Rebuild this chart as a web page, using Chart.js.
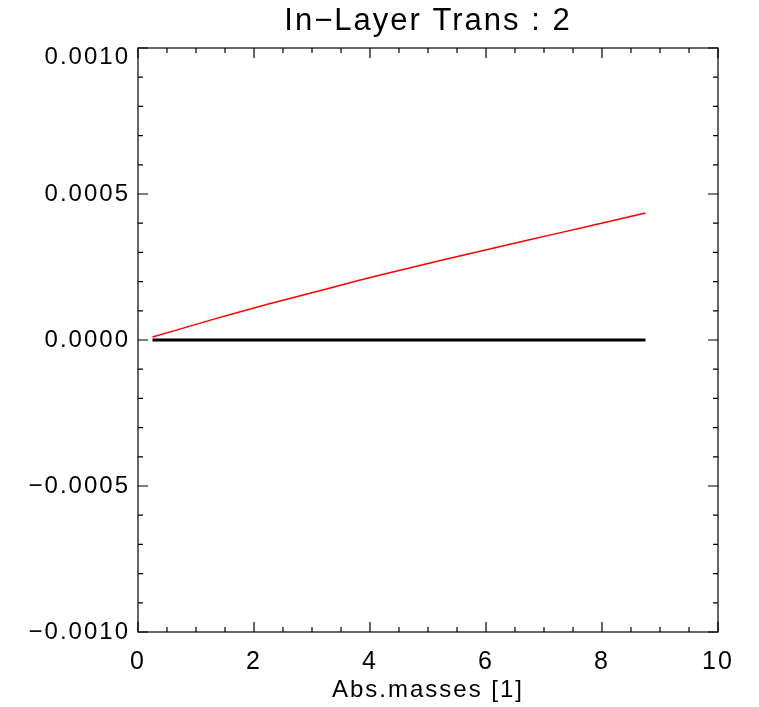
<!DOCTYPE html>
<html>
<head>
<meta charset="utf-8">
<script src="https://cdn.jsdelivr.net/npm/chart.js@4.4.0/dist/chart.umd.min.js"></script>
<style>
html, body { margin: 0; padding: 0; background: #fff; }
</style>
</head>
<body>
<canvas id="chart" width="759" height="707"></canvas>
<script>
// values
const xValues = [0.25, 0.75, 1.25, 1.75, 2.25, 2.75, 3.25, 3.75, 4.25,
                 4.75, 5.25, 5.75, 6.25, 6.75, 7.25, 7.75, 8.25, 8.75];
const transValues = [0.0000105, 0.000039, 0.000068, 0.000096, 0.000123, 0.000149,
                     0.000175, 0.000201, 0.000226, 0.000250, 0.000274, 0.000297,
                     0.000320, 0.000343, 0.000366, 0.000389, 0.000412, 0.000435];
const zeroValues = [0, 0, 0, 0, 0, 0, 0, 0, 0, 0, 0, 0, 0, 0, 0, 0, 0, 0];

const xTicks = [0, 2, 4, 6, 8, 10];
const yTicks = [-0.001, -0.0005, 0, 0.0005, 0.001];
const xMinor = 4;   // minor intervals per major
const yMinor = 5;

const FONT = '"Liberation Sans", Arial, Helvetica, sans-serif';
const yTop = yTicks[yTicks.length - 1];

function fmtY(v) {
    if (Math.abs(v) < 1e-12) return '0.0000';
    const s = (v < 0 ? '\u2212' : '') + Math.abs(v).toFixed(4);
    // IDL pushes the top label down inside the box
    return Math.abs(v - yTop) < 1e-12 ? ['', s] : s;
}

// the IDL font runs wider than Helvetica, so space the letters a bit
const wideText = {
    id: 'wideText',
    beforeDraw(chart) {
        chart.ctx.letterSpacing = '2px';
    }
};

// IDL style box with inward ticks on all four sides
const boxTicks = {
    id: 'boxTicks',
    afterDraw(chart) {
        const {ctx, chartArea: a} = chart;
        const x = chart.scales.x, y = chart.scales.y;
        ctx.save();
        ctx.strokeStyle = '#000';
        ctx.lineWidth = 1.2;
        ctx.strokeRect(a.left, a.top, a.right - a.left, a.bottom - a.top);
        ctx.beginPath();
        for (let i = 0; i < xTicks.length; i++) {
            const next = xTicks[i + 1];
            const steps = next === undefined ? 1 : xMinor;
            for (let k = 0; k < steps; k++) {
                const v = next === undefined ? xTicks[i] : xTicks[i] + (next - xTicks[i]) * k / xMinor;
                const px = x.getPixelForValue(v);
                const len = k === 0 ? 10 : 5;
                ctx.moveTo(px, a.bottom); ctx.lineTo(px, a.bottom - len);
                ctx.moveTo(px, a.top); ctx.lineTo(px, a.top + len);
            }
        }
        for (let i = 0; i < yTicks.length; i++) {
            const next = yTicks[i + 1];
            const steps = next === undefined ? 1 : yMinor;
            for (let k = 0; k < steps; k++) {
                const v = next === undefined ? yTicks[i] : yTicks[i] + (next - yTicks[i]) * k / yMinor;
                const py = y.getPixelForValue(v);
                const len = k === 0 ? 10 : 5;
                ctx.moveTo(a.left, py); ctx.lineTo(a.left + len, py);
                ctx.moveTo(a.right, py); ctx.lineTo(a.right - len, py);
            }
        }
        ctx.stroke();
        ctx.restore();
    }
};

const chart = new Chart(document.getElementById('chart'), {
    type: 'line',
    data: {
        labels: xValues,
        datasets: [{
            label: 'zero',
            data: xValues.map((v, i) => ({x: v, y: zeroValues[i]})),
            borderColor: '#000',
            borderWidth: 3,
            pointRadius: 0,
            tension: 0
        }, {
            label: 'trans',
            data: xValues.map((v, i) => ({x: v, y: transValues[i]})),
            borderColor: '#ff0000',
            borderWidth: 1.5,
            pointRadius: 0,
            tension: 0
        }]
    },
    options: {
        responsive: false,
        animation: false,
        devicePixelRatio: 1,
        layout: { padding: { left: 0, right: 41, top: 0, bottom: 0 } },
        plugins: {
            legend: { display: false },
            tooltip: { enabled: false },
            title: {
                display: true,
                fullSize: false,
                text: 'In\u2212Layer Trans : 2',
                color: '#000',
                font: { family: FONT, size: 31, weight: 'normal' },
                padding: { top: 3, bottom: 7.8 }
            }
        },
        scales: {
            x: {
                type: 'linear',
                min: 0,
                max: 10,
                afterFit: s => { s.height = 75; },
                afterBuildTicks: s => { s.ticks = xTicks.map(v => ({value: v})); },
                grid: { display: false, drawTicks: false },
                border: { display: false },
                ticks: {
                    color: '#000',
                    padding: 15,
                    maxRotation: 0,
                    font: { family: FONT, size: 25 },
                    callback: v => String(v)
                },
                title: {
                    display: true,
                    text: 'Abs.masses [1]',
                    color: '#000',
                    font: { family: FONT, size: 24 },
                    padding: { top: 0, bottom: 2 }
                }
            },
            y: {
                type: 'linear',
                min: -0.001,
                max: 0.001,
                afterFit: s => { s.width = 138; },
                afterBuildTicks: s => { s.ticks = yTicks.map(v => ({value: v})); },
                grid: { display: false, drawTicks: false },
                border: { display: false },
                ticks: {
                    color: '#000',
                    padding: 8,
                    font: ctx => ({
                        family: FONT,
                        size: 24,
                        lineHeight: ctx.tick && Math.abs(ctx.tick.value - yTop) < 1e-12 ? 0.75 : 1.2
                    }),
                    callback: v => fmtY(v)
                }
            }
        }
    },
    plugins: [wideText, boxTicks]
});
</script>
</body>
</html>
